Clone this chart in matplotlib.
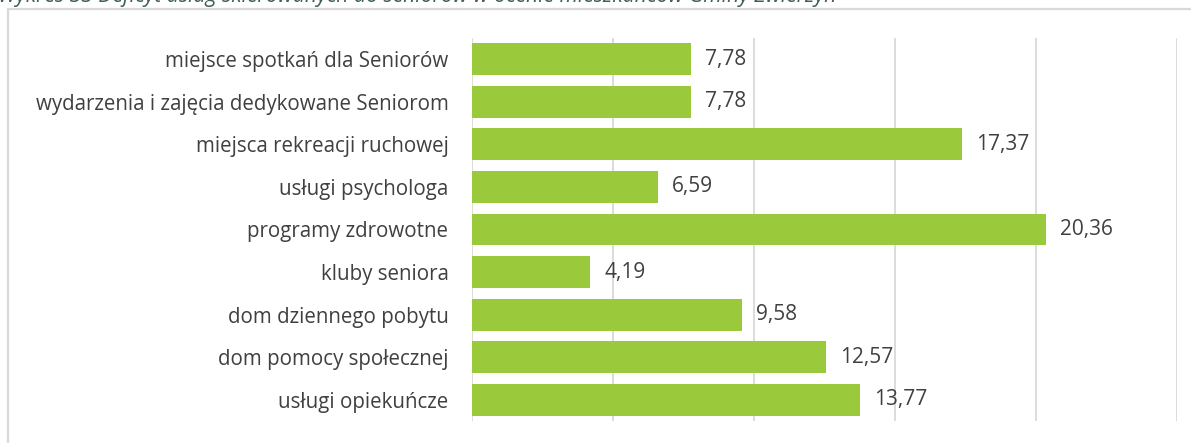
import matplotlib
matplotlib.use("Agg")
import matplotlib.pyplot as plt
from matplotlib.patches import Rectangle

categories = [
    "miejsce spotkań dla Seniorów",
    "wydarzenia i zajęcia dedykowane Seniorom",
    "miejsca rekreacji ruchowej",
    "usługi psychologa",
    "programy zdrowotne",
    "kluby seniora",
    "dom dziennego pobytu",
    "dom pomocy społecznej",
    "usługi opiekuńcze",
]
values = [7.78, 7.78, 17.37, 6.59, 20.36, 4.19, 9.58, 12.57, 13.77]
title = "Wykres 33 Deficyt usług skierowanych do seniorów w ocenie mieszkańców Gminy Zwierzyn"

W, H = 1191, 443
fig = plt.figure(figsize=(W / 100, H / 100), dpi=100)
plt.rcParams["font.family"] = ["Open Sans", "DejaVu Sans"]

text_color = "#404040"
grid_color = "#D9D9D9"
bar_color = "#9ACA3C"

# chart frame
fig.patches.append(Rectangle((8 / W, -0.1), 1.2, (H - 9) / H + 0.1,
                             transform=fig.transFigure, fill=False,
                             edgecolor=grid_color, linewidth=1.6))

# title line, partly above the canvas
fig.text(-2 / W, 1 - 2 / H, title, ha="left", va="baseline", fontsize=15.2,
         style="italic", color="#3F5F4F")

ax = fig.add_axes([472 / W, 22 / H, (1177 - 472) / W, (405 - 22) / H])
y = list(range(len(categories)))
ax.barh(y, values, height=0.75, color=bar_color, zorder=2)
ax.set_xlim(0, 25)
ax.set_ylim(len(categories) - 0.5, -0.5)
ax.set_xticks([0, 5, 10, 15, 20, 25])
ax.set_xticklabels([])
ax.tick_params(axis="both", length=0)
ax.set_yticks(y)
ax.set_yticklabels(categories, fontsize=14.8, color=text_color)
ax.tick_params(axis="y", pad=17)
ax.grid(axis="x", color=grid_color, linewidth=1.3, zorder=0)
for s in ax.spines.values():
    s.set_visible(False)

for yi, v in zip(y, values):
    ax.annotate(f"{v:.2f}".replace(".", ","), (v, yi), xytext=(10, 0),
                textcoords="offset points", va="center", ha="left",
                fontsize=15, color=text_color)

fig.savefig("out.png", dpi=100)
